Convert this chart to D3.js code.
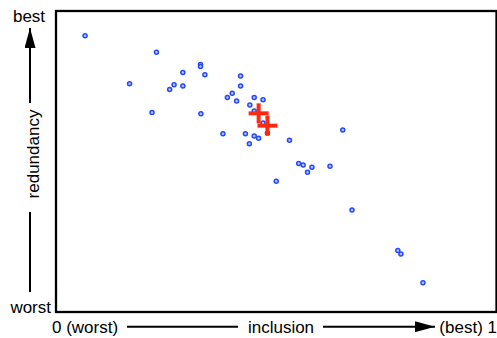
<!DOCTYPE html>
<html>
<head>
<meta charset="utf-8">
<script src="https://cdn.jsdelivr.net/npm/d3@7"></script>
<style>
  body { margin: 0; background: #fff; }
  text { font-family: "Liberation Sans", Arial, sans-serif; font-size: 17px; fill: #000; }
</style>
</head>
<body>
<div id="chart"></div>
<script>
// inclusion (x) and redundancy (y), both 0 = worst .. 1 = best
const inclusion = [0.066, 0.228, 0.328, 0.328, 0.288, 0.338, 0.419, 0.167, 0.268, 0.288,
  0.419, 0.258, 0.400, 0.389, 0.450, 0.470, 0.410, 0.440, 0.218, 0.329,
  0.450, 0.470, 0.379, 0.430, 0.450, 0.460, 0.480, 0.439, 0.530, 0.651,
  0.551, 0.561, 0.581, 0.571, 0.622, 0.500, 0.672, 0.776, 0.783, 0.833];
const redundancy = [0.918, 0.863, 0.822, 0.816, 0.796, 0.788, 0.784, 0.758, 0.755, 0.751,
  0.751, 0.739, 0.727, 0.713, 0.713, 0.705, 0.701, 0.688, 0.663, 0.659,
  0.668, 0.628, 0.592, 0.592, 0.585, 0.577, 0.595, 0.559, 0.571, 0.605,
  0.493, 0.488, 0.481, 0.464, 0.484, 0.434, 0.339, 0.204, 0.193, 0.097];

// highlighted solutions (red crosses)
const crossInclusion = [0.460, 0.480];
const crossRedundancy = [0.660, 0.619];

const width = 497, height = 338;
const plotLeft = 56, plotRight = 496.5, plotTop = 11, plotBottom = 312;

const svg = d3.select("#chart").append("svg")
  .attr("width", width)
  .attr("height", height);

const x = d3.scaleLinear().domain([0, 1]).range([plotLeft, plotRight]);
const y = d3.scaleLinear().domain([0, 1]).range([plotBottom, plotTop]);

// frame
svg.append("rect")
  .attr("x", plotLeft).attr("y", plotTop)
  .attr("width", plotRight - plotLeft).attr("height", plotBottom - plotTop)
  .attr("fill", "none")
  .attr("stroke", "#000")
  .attr("stroke-width", 2.3);

// points
svg.selectAll(".pt")
  .data(inclusion)
  .enter()
  .append("circle")
  .attr("class", "pt")
  .attr("cx", d => x(d))
  .attr("cy", (d, i) => y(redundancy[i]))
  .attr("r", 2)
  .attr("fill", "#b8c4ff")
  .attr("stroke", "#2447ff")
  .attr("stroke-width", 1.5);

// crosses
const cross = svg.selectAll(".cross")
  .data(crossInclusion)
  .enter()
  .append("g")
  .attr("class", "cross")
  .attr("transform", (d, i) => "translate(" + x(d) + "," + y(crossRedundancy[i]) + ")");
cross.append("line").attr("x1", -10).attr("x2", 10).attr("y1", 0).attr("y2", 0);
cross.append("line").attr("x1", 0).attr("x2", 0).attr("y1", -10).attr("y2", 10);
cross.selectAll("line").attr("stroke", "#ff2a10").attr("stroke-width", 4);

// arrowheads
const defs = svg.append("defs");
defs.append("marker")
  .attr("id", "head")
  .attr("viewBox", "0 0 20 11")
  .attr("refX", 20).attr("refY", 5.5)
  .attr("markerWidth", 20).attr("markerHeight", 11)
  .attr("markerUnits", "userSpaceOnUse")
  .attr("orient", "auto")
  .append("path")
  .attr("d", "M0,0 L20,5.5 L0,11 Z")
  .attr("fill", "#000");

// x axis label with arrow
const ay = 326.7;
svg.append("text").attr("x", 52).attr("y", 333).text("0 (worst)");
svg.append("text").attr("x", 281).attr("y", 333).attr("text-anchor", "middle").text("inclusion");
svg.append("text").attr("x", 497).attr("y", 333).attr("text-anchor", "end").text("(best) 1");
svg.append("line").attr("x1", 127).attr("x2", 238).attr("y1", ay).attr("y2", ay)
  .attr("stroke", "#000").attr("stroke-width", 2);
svg.append("line").attr("x1", 323).attr("x2", 435).attr("y1", ay).attr("y2", ay)
  .attr("stroke", "#000").attr("stroke-width", 2)
  .attr("marker-end", "url(#head)");

// y axis label with arrow
const ax = 30;
svg.append("text").attr("x", 29).attr("y", 22).attr("text-anchor", "middle").text("best");
svg.append("text").attr("x", 51).attr("y", 313).attr("text-anchor", "end").text("worst");
svg.append("text")
  .attr("transform", "translate(38.5,154)rotate(-90)")
  .attr("text-anchor", "middle")
  .text("redundancy");
svg.append("line").attr("x1", ax).attr("x2", ax).attr("y1", 292).attr("y2", 212)
  .attr("stroke", "#000").attr("stroke-width", 2);
svg.append("line").attr("x1", ax).attr("x2", ax).attr("y1", 103).attr("y2", 28)
  .attr("stroke", "#000").attr("stroke-width", 2)
  .attr("marker-end", "url(#head)");
</script>
</body>
</html>
